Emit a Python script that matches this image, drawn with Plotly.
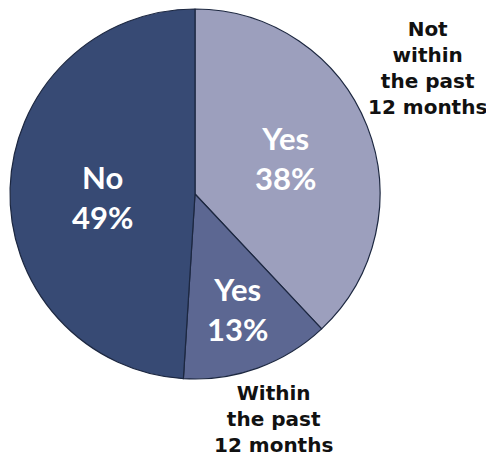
import plotly.graph_objects as go

# Survey answers, clockwise from 12 o'clock
answers = ["Yes", "Yes", "No"]
shares = [38, 13, 49]
groups = ["Not within the past 12 months", "Within the past 12 months", ""]
slice_colors = ["#9c9fbd", "#5c6792", "#374a74"]

W, H = 486, 461
FONT = "Lato"
OUTER_FONT = "DejaVu Sans"

fig = go.Figure(
    go.Pie(
        labels=[f"{a} ({g})" if g else a for a, g in zip(answers, groups)],
        values=shares,
        sort=False,
        direction="clockwise",
        rotation=0,
        textinfo="none",
        hoverinfo="label+percent",
        marker=dict(colors=slice_colors, line=dict(color="#1c2740", width=1.2)),
        domain=dict(x=[10 / W, 380 / W], y=[(H - 379) / H, (H - 9) / H]),
        showlegend=False,
    )
)

# Inside labels: answer and share, centred on each slice
inside_pos = [(285, 158), (237, 309), (102, 197)]
for (x, y), a, s in zip(inside_pos, answers, shares):
    fig.add_annotation(
        x=x / W, y=1 - y / H, xref="paper", yref="paper",
        text=f"<b>{a}<br>{s}%</b>", showarrow=False,
        font=dict(family=FONT, size=31, color="white"),
        align="center", xanchor="center", yanchor="middle",
    )

# Outside labels naming the time period of each "Yes" slice
outside = [
    ("Not<br>within<br>the past<br>12 months", 427, 68),
    ("Within<br>the past<br>12 months", 273, 419),
]
for txt, x, y in outside:
    fig.add_annotation(
        x=x / W, y=1 - y / H, xref="paper", yref="paper",
        text=f"<b>{txt}</b>", showarrow=False,
        font=dict(family=OUTER_FONT, size=20, color="#111111"),
        align="center", xanchor="center", yanchor="middle",
    )

fig.update_layout(
    width=W, height=H,
    margin=dict(l=0, r=0, t=0, b=0),
    paper_bgcolor="white", plot_bgcolor="white",
)

fig.write_html("out.html")
